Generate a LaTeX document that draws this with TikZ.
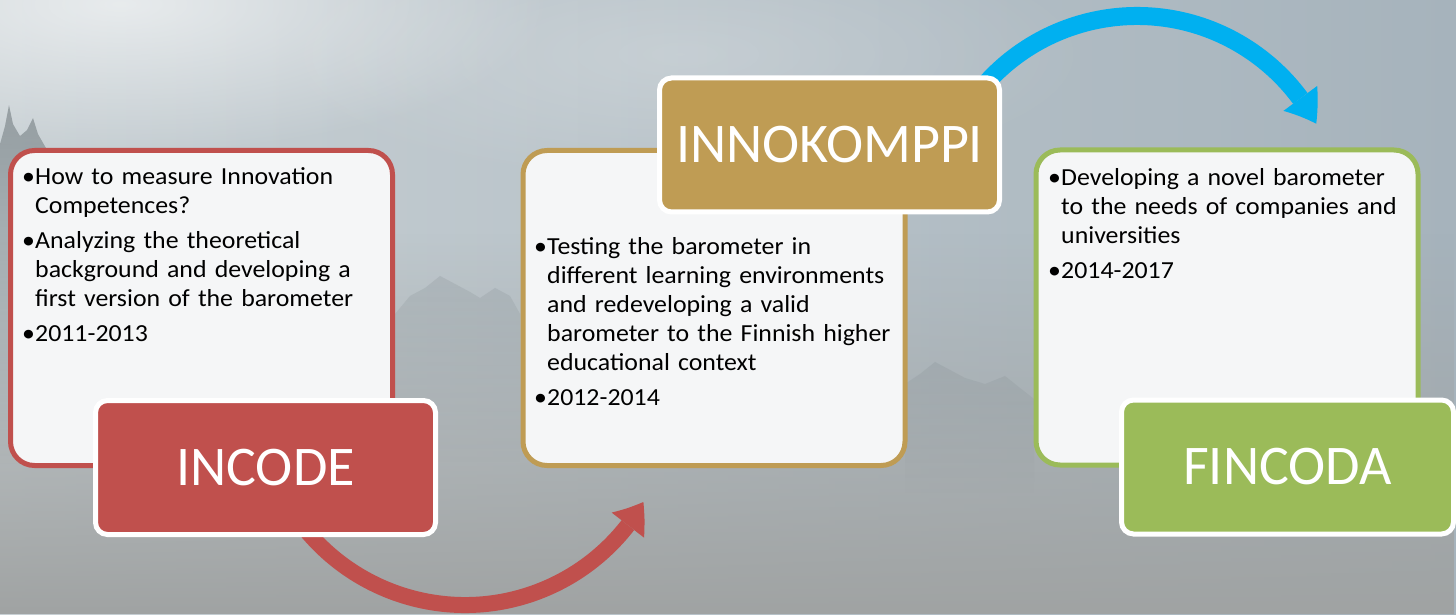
\documentclass[tikz,border=0pt]{standalone}
\usepackage{fontspec}
\setmainfont{Carlito}
\newfontfamily\cardfont[FakeStretch=1.055]{Carlito}
\usetikzlibrary{arrows.meta,bending,fadings}

\definecolor{incred}{RGB}{192,80,77}
\definecolor{innogold}{RGB}{191,156,84}
\definecolor{fingreen}{RGB}{155,187,89}
\definecolor{arrowblue}{RGB}{0,176,240}
\definecolor{cardfill}{RGB}{245,246,247}
\definecolor{skyleft}{RGB}{200,208,212}
\definecolor{skyright}{RGB}{166,179,188}
\definecolor{ground}{RGB}{160,163,163}
\definecolor{treegray}{RGB}{104,114,118}

% soft-edged glow used for the bright mist
\tikzfading[name=mistglow, inner color=transparent!0, outer color=transparent!100]
% grey valley floor, fading out towards the sky
\tikzfading[name=lowfog, top color=transparent!100, middle color=transparent!55,
  bottom color=transparent!0]
% tree silhouettes dissolving into the fog below
\tikzfading[name=treefade, top color=transparent!0, bottom color=transparent!100]

% one bullet point with a hanging indent; lines are broken by hand
\newcommand\cardpoint[1]{\par\noindent\hangindent=13pt\hangafter=1
  \makebox[13pt][l]{\strut•}#1\strut\par}
\newcommand\itemgap{\vspace{6pt}}
\newcommand\nl{\hfil\break}

\begin{document}
\begin{tikzpicture}[x=1pt,y=1pt,
  card/.style={draw=#1, fill=cardfill, line width=5pt, rounded corners=24pt,
    minimum width=382pt, minimum height=315pt, inner sep=0pt},
  namebox/.style={fill=#1, draw=white, line width=5pt, rounded corners=12pt,
    minimum width=340pt, minimum height=134pt, inner sep=0pt, text=white,
    font=\fontsize{56}{60}\selectfont},
  cardtext/.style={anchor=north west, text width=420pt, inner sep=0pt,
    font=\cardfont\fontsize{24.5}{29}\selectfont},
  flow/.style={line width=#1, line cap=butt}]

\useasboundingbox (0,0) rectangle (1456,614);

% misty sky and valley
\shade[left color=skyleft, right color=skyright] (0,0) rectangle (1456,614);
\fill[ground, path fading=lowfog] (0,0) rectangle (1456,380);
\fill[white, opacity=0.6, path fading=mistglow] (120,610) ellipse (430pt and 150pt);
\fill[white, opacity=0.2, path fading=mistglow] (680,560) ellipse (420pt and 130pt);

% dark fir trees on the left slope
\fill[treegray, opacity=0.55, path fading=treefade] (0,150) -- (0,470) -- (5,488)
  -- (9,509) -- (13,490) -- (20,478) -- (27,484) -- (33,496) -- (38,480)
  -- (46,466) -- (56,448) -- (66,430) -- (72,150) -- cycle;
% hazy tree lines in the fog
\fill[treegray, opacity=0.16, path fading=treefade] (395,150) -- (395,300)
  -- (410,318) -- (425,326) -- (440,338) -- (455,330) -- (470,322) -- (480,316)
  -- (495,326) -- (510,318) -- (520,300) -- (520,150) -- cycle;
\fill[treegray, opacity=0.14, path fading=treefade] (905,120) -- (905,230)
  -- (920,240) -- (935,252) -- (950,244) -- (965,236) -- (985,230) -- (1005,238)
  -- (1020,226) -- (1034,215) -- (1034,120) -- cycle;

% curved arrows running behind the name boxes
\coordinate (redhub) at (465,215);
\coordinate (bluehub) at (1137,395);
\draw[incred, flow=16pt, -{Triangle[width=41pt,length=28pt,line width=0pt,bend]}]
  ([shift={(205:206)}]redhub) arc[start angle=205, end angle=330, radius=206];
\draw[arrowblue, flow=18pt, -{Triangle[width=42pt,length=30pt,line width=0pt,bend]}]
  ([shift={(150:203)}]bluehub) arc[start angle=150, end angle=28, radius=203];

% description cards
\node[card=incred]   (incodecard) at (201.5,306) {};
\node[card=innogold] (innocard)   at (714,306)   {};
\node[card=fingreen] (fincard)    at (1227,306.5) {};

\node[cardtext] (incodetxt) at (22,458.3) {%
  \cardpoint{How to measure Innovation\nl Competences?}\itemgap
  \cardpoint{Analyzing the theoretical\nl background and developing a\nl first version of the barometer}\itemgap
  \cardpoint{2011-2013}};
\node[cardtext] (innotxt) at (534,388.3) {%
  \cardpoint{Testing the barometer in\nl different learning environments\nl and redeveloping a valid\nl barometer to the Finnish higher\nl educational context}\itemgap
  \cardpoint{2012-2014}};
\node[cardtext] (fintxt) at (1048,457.3) {%
  \cardpoint{Developing a novel barometer\nl to the needs of companies and\nl universities}\itemgap
  \cardpoint{2014-2017}};

% project name boxes
\node[namebox=incred]   (incode) at (265.5,146.5) {INCODE};
\node[namebox=innogold] (innokomppi) at (829.5,469) {INNOKOMPPI};
\node[namebox=fingreen, minimum width=332pt] (fincoda) at (1287.5,147) {FINCODA};

\end{tikzpicture}
\end{document}
